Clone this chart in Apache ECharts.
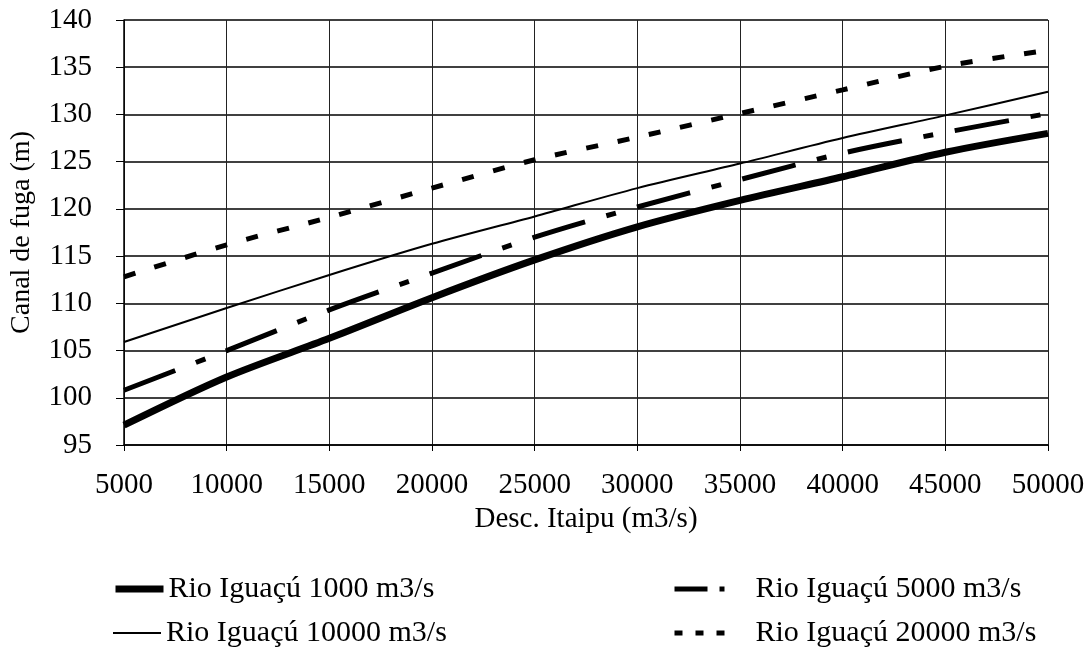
<!DOCTYPE html>
<html>
<head>
<meta charset="utf-8">
<script src="https://cdn.jsdelivr.net/npm/echarts@6/dist/echarts.min.js"></script>
<style>
html,body{margin:0;padding:0;background:#fff;}
#chart{width:1091px;height:647px;}
</style>
</head>
<body>
<div id="chart"></div>
<script>
const xValues = [5000, 10000, 15000, 20000, 25000, 30000, 35000, 40000, 45000, 50000];
const rio1000 = [97.1, 102.2, 106.3, 110.6, 114.6, 118.1, 120.9, 123.4, 126.0, 128.0];
const rio10000 = [105.9, 109.5, 113.0, 116.3, 119.2, 122.2, 124.8, 127.5, 129.9, 132.4];
const rio5000 = [100.8, 105.0, 109.3, 113.2, 117.0, 120.2, 123.1, 125.9, 128.1, 130.1];
const rio20000 = [112.8, 116.2, 119.1, 122.2, 125.2, 127.6, 130.1, 132.6, 135.1, 136.8];
const seriesNames = ['Rio Iguaçú 1000 m3/s', 'Rio Iguaçú 10000 m3/s', 'Rio Iguaçú 5000 m3/s', 'Rio Iguaçú 20000 m3/s'];
const xTitle = 'Desc. Itaipu (m3/s)';
const yTitle = 'Canal de fuga (m)';

const pairs = arr => xValues.map((x, i) => [x, arr[i]]);
const font = '"Liberation Serif", "Times New Roman", serif';
const legendText = {fontFamily: font, fontSize: 30, color: '#000'};

function legendItem(name, left, top, width, lineStyle, pad) {
  return {
    data: [{name: name, lineStyle: lineStyle, itemStyle: {opacity: 0}}],
    orient: 'horizontal', left: left, top: top,
    itemWidth: width, itemHeight: 14, padding: 0,
    itemStyle: {opacity: 0},
    textStyle: Object.assign({}, legendText, {padding: [0, 0, 0, pad]})
  };
}

const chart = echarts.init(document.getElementById('chart'), null, {renderer: 'canvas'});
chart.setOption({
  backgroundColor: '#fff',
  animation: false,
  textStyle: {fontFamily: font, color: '#000'},
  grid: {left: 122, right: 43, top: 20, bottom: 202},
  xAxis: {
    type: 'value', min: 5000, max: 50000, interval: 5000,
    name: xTitle, nameLocation: 'middle', nameGap: 55,
    nameTextStyle: {fontFamily: font, fontSize: 29, color: '#000'},
    axisLine: {show: true, onZero: false, lineStyle: {color: '#000', width: 1.5}},
    axisTick: {show: true, length: 6, lineStyle: {color: '#000'}},
    axisLabel: {fontFamily: font, fontSize: 29, color: '#000', margin: 26,
                formatter: v => String(v)},
    splitLine: {show: true, lineStyle: {color: '#222', width: 1}}
  },
  yAxis: {
    type: 'value', min: 95, max: 140, interval: 5,
    name: yTitle, nameLocation: 'middle', nameGap: 88, nameRotate: 90,
    nameTextStyle: {fontFamily: font, fontSize: 28, color: '#000'},
    axisLine: {show: true, lineStyle: {color: '#000', width: 1.5}},
    axisTick: {show: true, length: 8, lineStyle: {color: '#000'}},
    axisLabel: {fontFamily: font, fontSize: 29, color: '#000', margin: 32},
    splitLine: {show: true, lineStyle: {color: '#000', width: 1.5}}
  },
  legend: [
    legendItem(seriesNames[0], 112, 574, 48, {width: 7, type: 'solid'}, 0),
    legendItem(seriesNames[1], 112, 618, 48, {width: 2, type: 'solid'}, 0),
    legendItem(seriesNames[2], 672, 574, 50, {width: 5, type: [33, 12, 10, 100]}, 26),
    legendItem(seriesNames[3], 672, 618, 50, {width: 5, type: [8, 13]}, 26)
  ],
  series: [
    {
      name: seriesNames[0], type: 'line', data: pairs(rio1000), smooth: 0.3,
      symbol: 'none', showSymbol: false, color: '#000',
      lineStyle: {color: '#000', width: 7, type: 'solid'}
    },
    {
      name: seriesNames[1], type: 'line', data: pairs(rio10000), smooth: 0.3,
      symbol: 'none', showSymbol: false, color: '#000',
      lineStyle: {color: '#000', width: 2, type: 'solid'}
    },
    {
      name: seriesNames[2], type: 'line', data: pairs(rio5000), smooth: 0.3,
      symbol: 'none', showSymbol: false, color: '#000',
      lineStyle: {color: '#000', width: 5, type: [55, 22, 10, 22]}
    },
    {
      name: seriesNames[3], type: 'line', data: pairs(rio20000), smooth: 0.3,
      symbol: 'none', showSymbol: false, color: '#000',
      lineStyle: {color: '#000', width: 5, type: [12, 20]}
    }
  ]
});
</script>
</body>
</html>
